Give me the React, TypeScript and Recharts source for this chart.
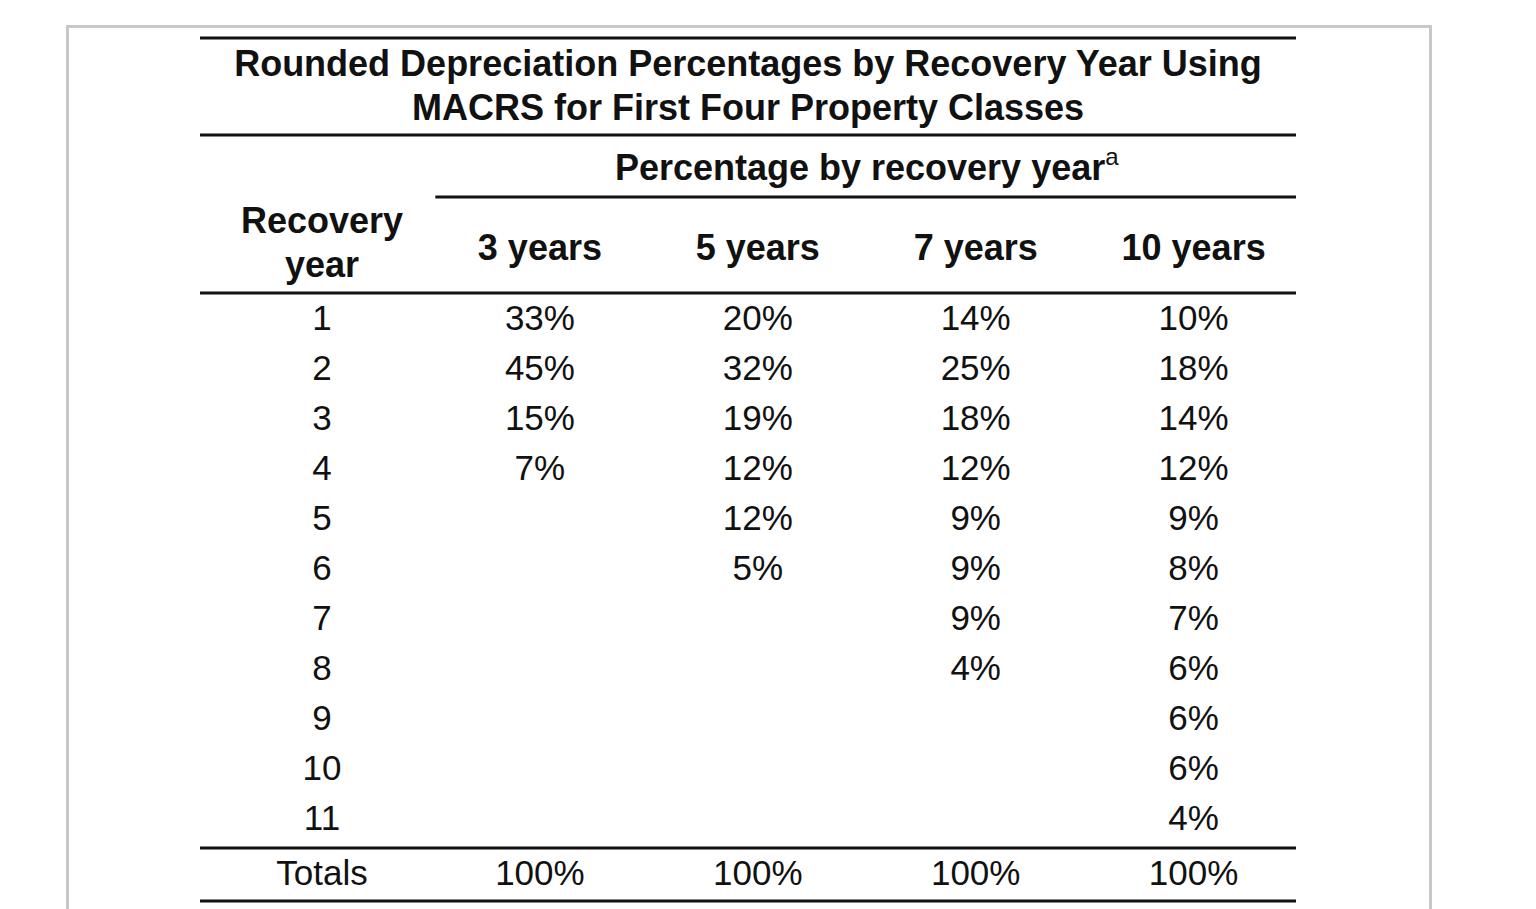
import { ScatterChart, Scatter, XAxis, YAxis, ReferenceLine } from "recharts";

// table content
const titleLines = [
  "Rounded Depreciation Percentages by Recovery Year Using",
  "MACRS for First Four Property Classes",
];
const groupHeader = "Percentage by recovery year";
const footnoteMark = "a";
const stubHeader = ["Recovery", "year"];
const propertyClasses = ["3 years", "5 years", "7 years", "10 years"];
const recoveryYears = [1, 2, 3, 4, 5, 6, 7, 8, 9, 10, 11];
const threeYear = [33, 45, 15, 7];
const fiveYear = [20, 32, 19, 12, 12, 5];
const sevenYear = [14, 25, 18, 12, 9, 9, 9, 4];
const tenYear = [10, 18, 14, 12, 9, 8, 7, 6, 6, 6, 4];
const totalsLabel = "Totals";
const totals = [100, 100, 100, 100];

// row / column layout in table units (column index, row index)
const TOTAL_ROW = 12.1;
const TITLE_ROWS = [-4.08, -3.2];
const GROUP_ROW = -2.0;
const HEADER_ROW = -0.4;
const STUB_ROWS = [-0.94, -0.05];
const X_DOMAIN: [number, number] = [-0.56, 4.47];
const Y_DOMAIN: [number, number] = [-4.7, 12.8];
const RULES = [-4.58, -2.64, 0.52, 11.62, 12.68];
const GROUP_RULE = -1.4;

type Cell = { x: number; y: number; text: string; kind: string };

const columns = [threeYear, fiveYear, sevenYear, tenYear];

const bodyCells: Cell[] = [];
recoveryYears.forEach((yr) => {
  bodyCells.push({ x: 0, y: yr, text: String(yr), kind: "body" });
});
columns.forEach((vals, ci) => {
  vals.forEach((v, ri) => {
    bodyCells.push({ x: ci + 1, y: recoveryYears[ri], text: `${v}%`, kind: "body" });
  });
});
bodyCells.push({ x: 0, y: TOTAL_ROW, text: totalsLabel, kind: "body" });
totals.forEach((v, ci) => {
  bodyCells.push({ x: ci + 1, y: TOTAL_ROW, text: `${v}%`, kind: "body" });
});

const headerCells: Cell[] = [
  ...titleLines.map((t, i) => ({
    x: (X_DOMAIN[0] + X_DOMAIN[1]) / 2,
    y: TITLE_ROWS[i],
    text: t,
    kind: "head",
  })),
  { x: 2.5, y: GROUP_ROW, text: groupHeader, kind: "group" },
  ...stubHeader.map((t, i) => ({ x: 0, y: STUB_ROWS[i], text: t, kind: "head" })),
  ...propertyClasses.map((t, i) => ({ x: i + 1, y: HEADER_ROW, text: t, kind: "head" })),
];

const TextCell = (props: any) => {
  const { cx, cy, payload } = props;
  const bold = payload.kind !== "body";
  return (
    <text
      x={cx}
      y={cy}
      dy="0.36em"
      textAnchor="middle"
      fill="#111"
      fontSize={bold ? 36 : 35}
      fontWeight={bold ? 700 : 400}
    >
      {payload.text}
      {payload.kind === "group" && (
        <tspan dy={-15} fontSize={24} fontWeight={400}>
          {footnoteMark}
        </tspan>
      )}
    </text>
  );
};

export default function App() {
  return (
    <div style={{ position: "absolute", left: 0, top: 0, width: 1536, height: 909, overflow: "hidden", background: "#fff" }}>
      <div
        style={{
          position: "absolute",
          left: 66,
          top: 25,
          width: 1360,
          height: 1000,
          border: "3px solid #c8c8c8",
        }}
      />
      <div style={{ position: "absolute", left: 0, top: 0 }}>
        <ScatterChart
          width={1536}
          height={909}
          margin={{ top: 32, right: 240, bottom: 2, left: 200 }}
          style={{ fontFamily: "'Liberation Sans', Arial, sans-serif" }}
        >
          <XAxis type="number" dataKey="x" domain={X_DOMAIN} hide allowDataOverflow />
          <YAxis type="number" dataKey="y" domain={Y_DOMAIN} reversed hide allowDataOverflow />
          {RULES.map((r) => (
            <ReferenceLine key={r} y={r} stroke="#111" strokeWidth={3} ifOverflow="visible" />
          ))}
          <ReferenceLine
            segment={[
              { x: 0.52, y: GROUP_RULE },
              { x: X_DOMAIN[1], y: GROUP_RULE },
            ]}
            stroke="#111"
            strokeWidth={3}
            ifOverflow="visible"
          />
          <Scatter data={headerCells} shape={TextCell} isAnimationActive={false} />
          <Scatter data={bodyCells} shape={TextCell} isAnimationActive={false} />
        </ScatterChart>
      </div>
    </div>
  );
}
